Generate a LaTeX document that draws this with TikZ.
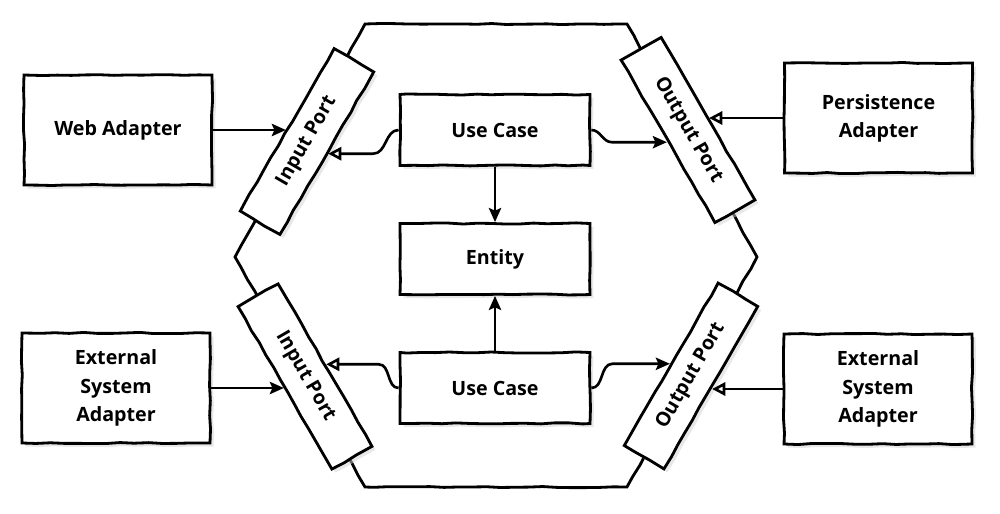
\documentclass[tikz,border=0pt]{standalone}
\usepackage{fontspec}
\setmainfont{Open Sans}
\usetikzlibrary{arrows.meta,calc,shadows,decorations.pathmorphing}
\tikzset{
  sketch/.style={decorate, decoration={random steps, segment length=8pt, amplitude=0.35pt}},
  label font/.style={font=\fontsize{11.2}{16}\selectfont\bfseries},
  adapter/.style={draw, sketch, line width=1.6pt, fill=white, align=center, label font,
    minimum width=3.76cm, minimum height=2.2cm,
    drop shadow={shadow xshift=2pt, shadow yshift=-2pt, fill=black!18}},
  core/.style={adapter, minimum width=3.8cm, minimum height=1.42cm},
  port/.style={adapter, minimum width=3.76cm, minimum height=0.92cm},
  flow/.style={line width=1.5pt, -{Stealth[length=8pt,width=7pt,inset=1.5pt]}},
  impl/.style={line width=1.5pt, -{Triangle[open,length=7.5pt,width=7.5pt]}}
}
\begin{document}
\begin{tikzpicture}
  \useasboundingbox (0,0) rectangle (20,-10.28);
  % hexagon
  \draw[sketch, line width=1.6pt] (7.3,-0.48) -- (12.54,-0.48) -- (15.14,-5.14)
     -- (12.54,-9.74) -- (7.3,-9.74) -- (4.7,-5.14) -- cycle;
  % ports
  \node[port, rotate=60]  (ip1) at (6.14,-2.83)  {Input Port};
  \node[port, rotate=-60] (op1) at (13.76,-2.6)  {Output Port};
  \node[port, rotate=-60] (ip2) at (6.10,-7.53)  {Input Port};
  \node[port, rotate=60]  (op2) at (13.82,-7.52) {Output Port};
  % adapters
  \node[adapter] (wa)  at (2.36,-2.6)   {Web Adapter};
  \node[adapter] (pa)  at (17.57,-2.36) {Persistence\\Adapter};
  \node[adapter] (ea1) at (2.32,-7.76)  {External\\System\\Adapter};
  \node[adapter] (ea2) at (17.56,-7.78) {External\\System\\Adapter};
  % application core
  \node[core] (uc1) at (9.9,-2.6)  {Use Case};
  \node[core] (en)  at (9.9,-5.18) {Entity};
  \node[core] (uc2) at (9.9,-7.76) {Use Case};
  % connectors
  \draw[flow] (wa.east) -- (wa.east -| ip1.north);
  \draw[impl] (pa.west) -- (pa.west -| op1.north);
  \draw[flow] (ea1.east) -- (ea1.east -| ip2.south);
  \draw[impl] (ea2.west) -- (ea2.west -| op2.south);
  \draw[flow] (uc1) -- (en);
  \draw[flow] (uc2) -- (en);
  \draw[impl] (uc1.west) to[out=180,in=0] ($(ip1.south)+(0.9,0)$) -- (ip1.south);
  \draw[flow] (uc1.east) to[out=0,in=180] ($(op1.south)+(-1.1,0)$) -- (op1.south);
  \draw[impl] (uc2.west) to[out=180,in=0] ($(ip2.north)+(1.05,0)$) -- (ip2.north);
  \draw[flow] (uc2.east) to[out=0,in=180] ($(op2.north)+(-1.15,0)$) -- (op2.north);
\end{tikzpicture}
\end{document}
